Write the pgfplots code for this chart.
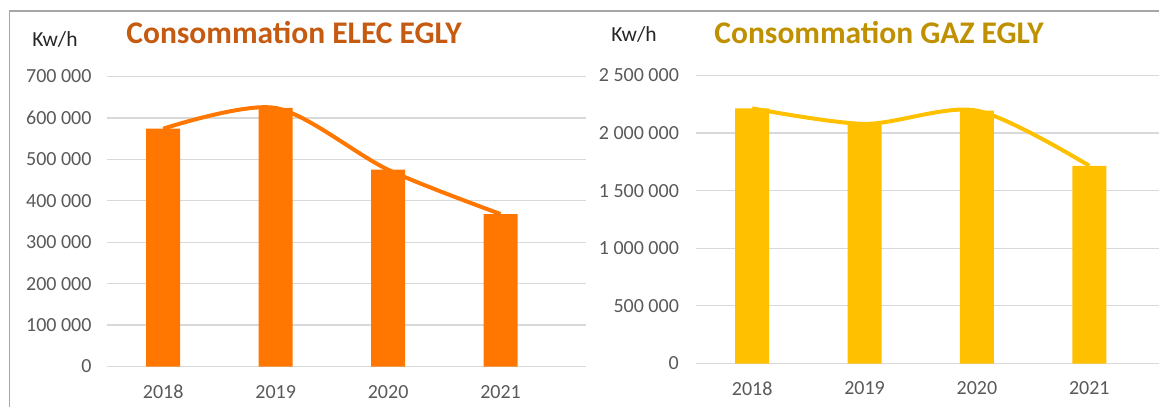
\documentclass[border=0pt]{standalone}
\usepackage{pgfplots}
\usepackage{pgfplotstable}
\pgfplotsset{compat=1.18}
\usepackage{fontspec}
\setmainfont{Carlito}
\definecolor{elec}{HTML}{FF7700}
\definecolor{elect}{HTML}{C55A11}
\definecolor{gaz}{HTML}{FFC000}
\definecolor{gazt}{HTML}{BF9000}
\definecolor{gridc}{HTML}{D9D9D9}
\definecolor{lab}{HTML}{595959}
\definecolor{kwh}{HTML}{262626}
\definecolor{frame}{HTML}{A6A6A6}

\pgfplotstableread{
x y
0 574000
1 624000
2 475000
3 368000
}\elecdata
\pgfplotstableread{
x y
0 2215000
1 2080000
2 2195000
3 1716000
}\gazdata

\pgfplotsset{
  common/.style={
    scale only axis, anchor=south west,
    bar width=34bp,
    xmin=-0.5, ymin=0,
    scaled y ticks=false,
    xtick={0,1,2,3}, xticklabels={2018,2019,2020,2021},
    axis line style={draw=none},
    major tick length=0pt,
    ymajorgrids, grid style={color=gridc, line width=1.2bp},
    ticklabel style={font=\fontsize{20bp}{24bp}\selectfont, text=lab},
    xticklabel style={anchor=center, yshift=-25.5bp},
    yticklabel style={anchor=east},
    clip=false,
  }
}

\begin{document}
\begin{tikzpicture}
\path[use as bounding box] (0bp,0bp) rectangle (1159bp,407bp);
\draw[color=frame, line width=1.2bp] (9.3bp,0bp) -- (9.3bp,396bp) -- (1159bp,396bp);

\begin{axis}[common,
  at={(107bp,40.5bp)}, width=479bp, height=290bp,
  xmax=3.76, ymax=700000,
  ytick={0,100000,200000,300000,400000,500000,600000,700000},
  yticklabels={0,100 000,200 000,300 000,400 000,500 000,600 000,700 000},
  yticklabel style={xshift=-12bp},
]
\addplot[ybar, fill=elec, draw=none] table[x=x,y=y]{\elecdata};
\addplot[smooth, color=elec, line width=4bp, no marks] table[x=x,y=y]{\elecdata};
\end{axis}

\begin{axis}[common,
  at={(696bp,43.5bp)}, width=463bp, height=288bp,
  xmax=3.62, ymax=2500000,
  ytick={0,500000,1000000,1500000,2000000,2500000},
  yticklabels={0,500 000,1 000 000,1 500 000,2 000 000,2 500 000},
  yticklabel style={xshift=-13.6bp},
  xticklabel style={yshift=0.5bp},
]
\addplot[ybar, fill=gaz, draw=none] table[x=x,y=y]{\gazdata};
\addplot[smooth, color=gaz, line width=4bp, no marks] table[x=x,y=y]{\gazdata};
\end{axis}

\node[anchor=base, text=elect, font=\fontsize{31.5bp}{36bp}\selectfont\bfseries] at (294bp,363bp) {Consommation ELEC EGLY};
\node[anchor=base, text=gazt, font=\fontsize{31.5bp}{36bp}\selectfont\bfseries] at (879bp,363bp) {Consommation GAZ EGLY};
\node[anchor=base, text=kwh, font=\fontsize{21.5bp}{26bp}\selectfont] at (55bp,360.5bp) {Kw/h};
\node[anchor=base, text=kwh, font=\fontsize{21.5bp}{26bp}\selectfont] at (634bp,365.5bp) {Kw/h};
\end{tikzpicture}
\end{document}
